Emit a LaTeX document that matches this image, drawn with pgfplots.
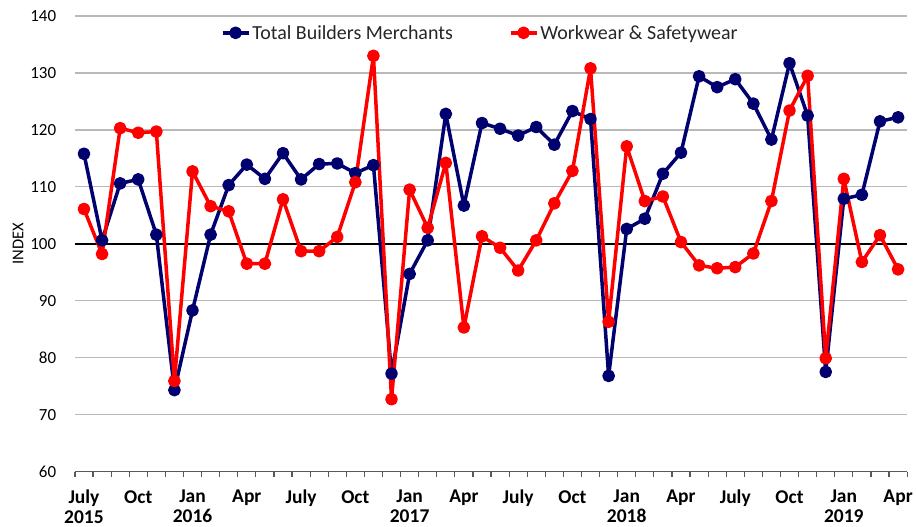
\documentclass[border=0pt]{standalone}
\usepackage{pgfplots}
\pgfplotsset{compat=1.18}
\usepackage{fontspec}
\setmainfont{Carlito}
\definecolor{navyline}{RGB}{0,0,110}
\definecolor{redline}{RGB}{255,0,0}
\definecolor{gridgray}{RGB}{185,185,185}

\pgfplotstableread{
x builders workwear
0 115.8 106.1
1 100.6 98.2
2 110.6 120.3
3 111.3 119.5
4 101.6 119.7
5 74.3 75.9
6 88.3 112.7
7 101.6 106.6
8 110.3 105.7
9 113.9 96.5
10 111.4 96.5
11 115.9 107.8
12 111.3 98.7
13 114.0 98.7
14 114.1 101.2
15 112.4 110.8
16 113.8 133.0
17 77.2 72.7
18 94.7 109.5
19 100.6 102.8
20 122.8 114.2
21 106.7 85.3
22 121.2 101.3
23 120.2 99.3
24 119.0 95.3
25 120.5 100.6
26 117.4 107.1
27 123.3 112.8
28 121.9 130.8
29 76.8 86.3
30 102.6 117.1
31 104.4 107.5
32 112.3 108.3
33 116.0 100.3
34 129.4 96.2
35 127.5 95.7
36 128.9 95.9
37 124.6 98.3
38 118.3 107.5
39 131.7 123.4
40 122.5 129.5
41 77.5 79.9
42 107.9 111.4
43 108.6 96.8
44 121.5 101.5
45 122.2 95.5
}\indexdata

\begin{document}
\begin{tikzpicture}
\begin{axis}[
  scale only axis,
  width=833pt,height=456pt,
  xmin=-0.5,xmax=45.5,
  ymin=60,ymax=140,
  axis x line*=bottom,
  axis y line*=left,
  y axis line style={draw=none},
  x axis line style={draw=black!65,line width=1.6pt},
  xtick={0,3,...,45},
  xticklabels={{July\\2015},Oct,{Jan\\2016},Apr,July,Oct,{Jan\\2017},Apr,
    July,Oct,{Jan\\2018},Apr,July,Oct,{Jan\\2019},Apr},
  xticklabel style={align=center,font=\fontsize{19.5}{19.5}\selectfont\bfseries,
    yshift=-11pt},
  major x tick style={draw=none},
  minor xtick={-0.5,0.5,...,45.5},
  minor tick length=5pt,
  minor x tick style={draw=black!65,line width=1.2pt},
  tick align=outside,
  ytick={60,70,...,140},
  ytick style={draw=none},
  yticklabel style={font=\fontsize{17}{17}\selectfont,xshift=-11pt},
  /pgf/number format/assume math mode=true,
  ymajorgrids,
  grid style={draw=gridgray,line width=1.3pt},
  clip=false,
  legend columns=2,
  legend style={draw=none,fill=none,at={(0.487,0.963)},anchor=center,
    font=\fontsize{20}{20}\selectfont,text=black!85,
    /tikz/every even column/.append style={column sep=54pt}},
  legend image code/.code={\draw[mark repeat=2,mark phase=2]
    plot coordinates {(0pt,0pt)(13pt,0pt)(26pt,0pt)};},
]
\addplot[black,line width=2.2pt,forget plot] coordinates {(-0.5,100)(45.5,100)};
\addplot[navyline,line width=3.5pt,line join=round,mark=*,mark size=4.6pt]
  table[x=x,y=builders] {\indexdata};
\addplot[redline,line width=3.5pt,line join=round,mark=*,mark size=4.6pt]
  table[x=x,y=workwear] {\indexdata};
\legend{Total Builders Merchants,Workwear \& Safetywear}
\node[xshift=-57pt,rotate=90,font=\fontsize{16.5}{16.5}\selectfont]
  at (axis description cs:0,0.5) {INDEX};
\path (rel axis cs:0,0) ++(-75pt,-55pt) rectangle (rel axis cs:1,1) ++(8pt,16pt);
\end{axis}
\end{tikzpicture}
\end{document}
